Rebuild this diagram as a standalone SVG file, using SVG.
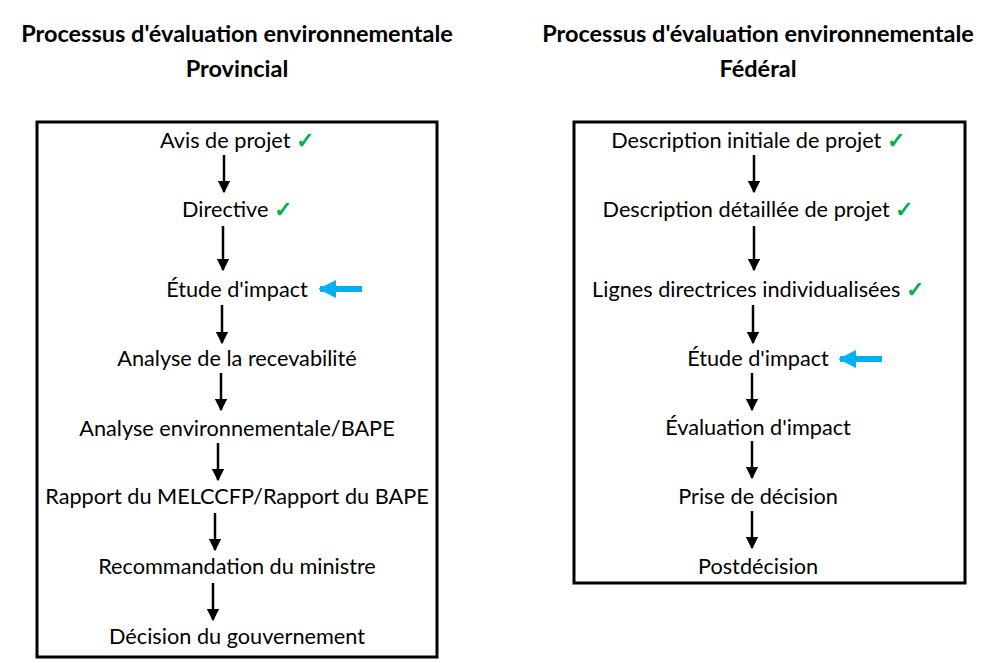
<svg xmlns="http://www.w3.org/2000/svg" width="985" height="663" viewBox="0 0 985 663">
<defs>
<marker id="ah" viewBox="0 0 10 10" refX="9" refY="5" markerWidth="5" markerHeight="5" orient="auto"><path d="M0,0 L10,5 L0,10 z" fill="#000"/></marker>
<marker id="bh" viewBox="0 0 10 10" refX="9" refY="5" markerWidth="3" markerHeight="3" orient="auto"><path d="M0,0 L10,5 L0,10 z" fill="#00B0F0"/></marker>
</defs>
<style>
text{font-family:Lato,"Noto Sans",sans-serif;font-size:21.7px;fill:#000;text-anchor:middle}
.t{font-weight:bold;font-size:23.5px}
.c{fill:#00B050;font-weight:bold}
.box{fill:#fff;stroke:#000;stroke-width:3}
.a{stroke:#000;stroke-width:2.5;fill:none;marker-end:url(#ah)}
.b{stroke:#00B0F0;stroke-width:6;fill:none;marker-end:url(#bh)}
</style>
<rect width="985" height="663" fill="#fff"/>
<text class="t" x="237" y="42">Processus d'évaluation environnementale</text>
<text class="t" x="237" y="77">Provincial</text>
<text class="t" x="758" y="42">Processus d'évaluation environnementale</text>
<text class="t" x="758" y="77">Fédéral</text>
<rect class="box" x="37" y="122" width="400" height="535"/>
<rect class="box" x="574" y="122" width="391" height="461"/>
<g id="left-nodes">
<g id="l1"><text x="237" y="148">Avis de projet <tspan class="c">✓</tspan></text></g>
<g id="l2"><text x="237" y="217">Directive <tspan class="c">✓</tspan></text></g>
<g id="l3"><text x="237" y="297">Étude d'impact</text></g>
<g id="l4"><text x="237" y="366">Analyse de la recevabilité</text></g>
<g id="l5"><text x="237" y="436">Analyse environnementale/BAPE</text></g>
<g id="l6"><text x="237" y="504">Rapport du MELCCFP/Rapport du BAPE</text></g>
<g id="l7"><text x="237" y="574">Recommandation du ministre</text></g>
<g id="l8"><text x="237" y="644">Décision du gouvernement</text></g>
</g>
<g id="right-nodes">
<g id="r1"><text x="758" y="148">Description initiale de projet <tspan class="c">✓</tspan></text></g>
<g id="r2"><text x="758" y="217">Description détaillée de projet <tspan class="c">✓</tspan></text></g>
<g id="r3"><text x="758" y="297">Lignes directrices individualisées <tspan class="c">✓</tspan></text></g>
<g id="r4"><text x="758" y="366">Étude d'impact</text></g>
<g id="r5"><text x="758" y="435">Évaluation d'impact</text></g>
<g id="r6"><text x="758" y="504">Prise de décision</text></g>
<g id="r7"><text x="758" y="574">Postdécision</text></g>
</g>
<g id="connectors">
<line class="a" x1="224" y1="155" x2="224" y2="192"/>
<line class="a" x1="223" y1="226" x2="223" y2="270"/>
<line class="a" x1="222" y1="305" x2="222" y2="343"/>
<line class="a" x1="221" y1="373" x2="221" y2="410"/>
<line class="a" x1="218" y1="443" x2="218" y2="480"/>
<line class="a" x1="215" y1="513" x2="215" y2="550"/>
<line class="a" x1="213" y1="583" x2="213" y2="620"/>
<line class="a" x1="754" y1="155" x2="754" y2="192"/>
<line class="a" x1="754" y1="226" x2="754" y2="270"/>
<line class="a" x1="753" y1="305" x2="753" y2="343"/>
<line class="a" x1="752" y1="373" x2="752" y2="410"/>
<line class="a" x1="752" y1="441" x2="752" y2="478"/>
<line class="a" x1="752" y1="511" x2="752" y2="548"/>
<line class="b" x1="362" y1="289" x2="320" y2="289"/>
<line class="b" x1="882" y1="359" x2="840" y2="359"/>
</g>
</svg>
